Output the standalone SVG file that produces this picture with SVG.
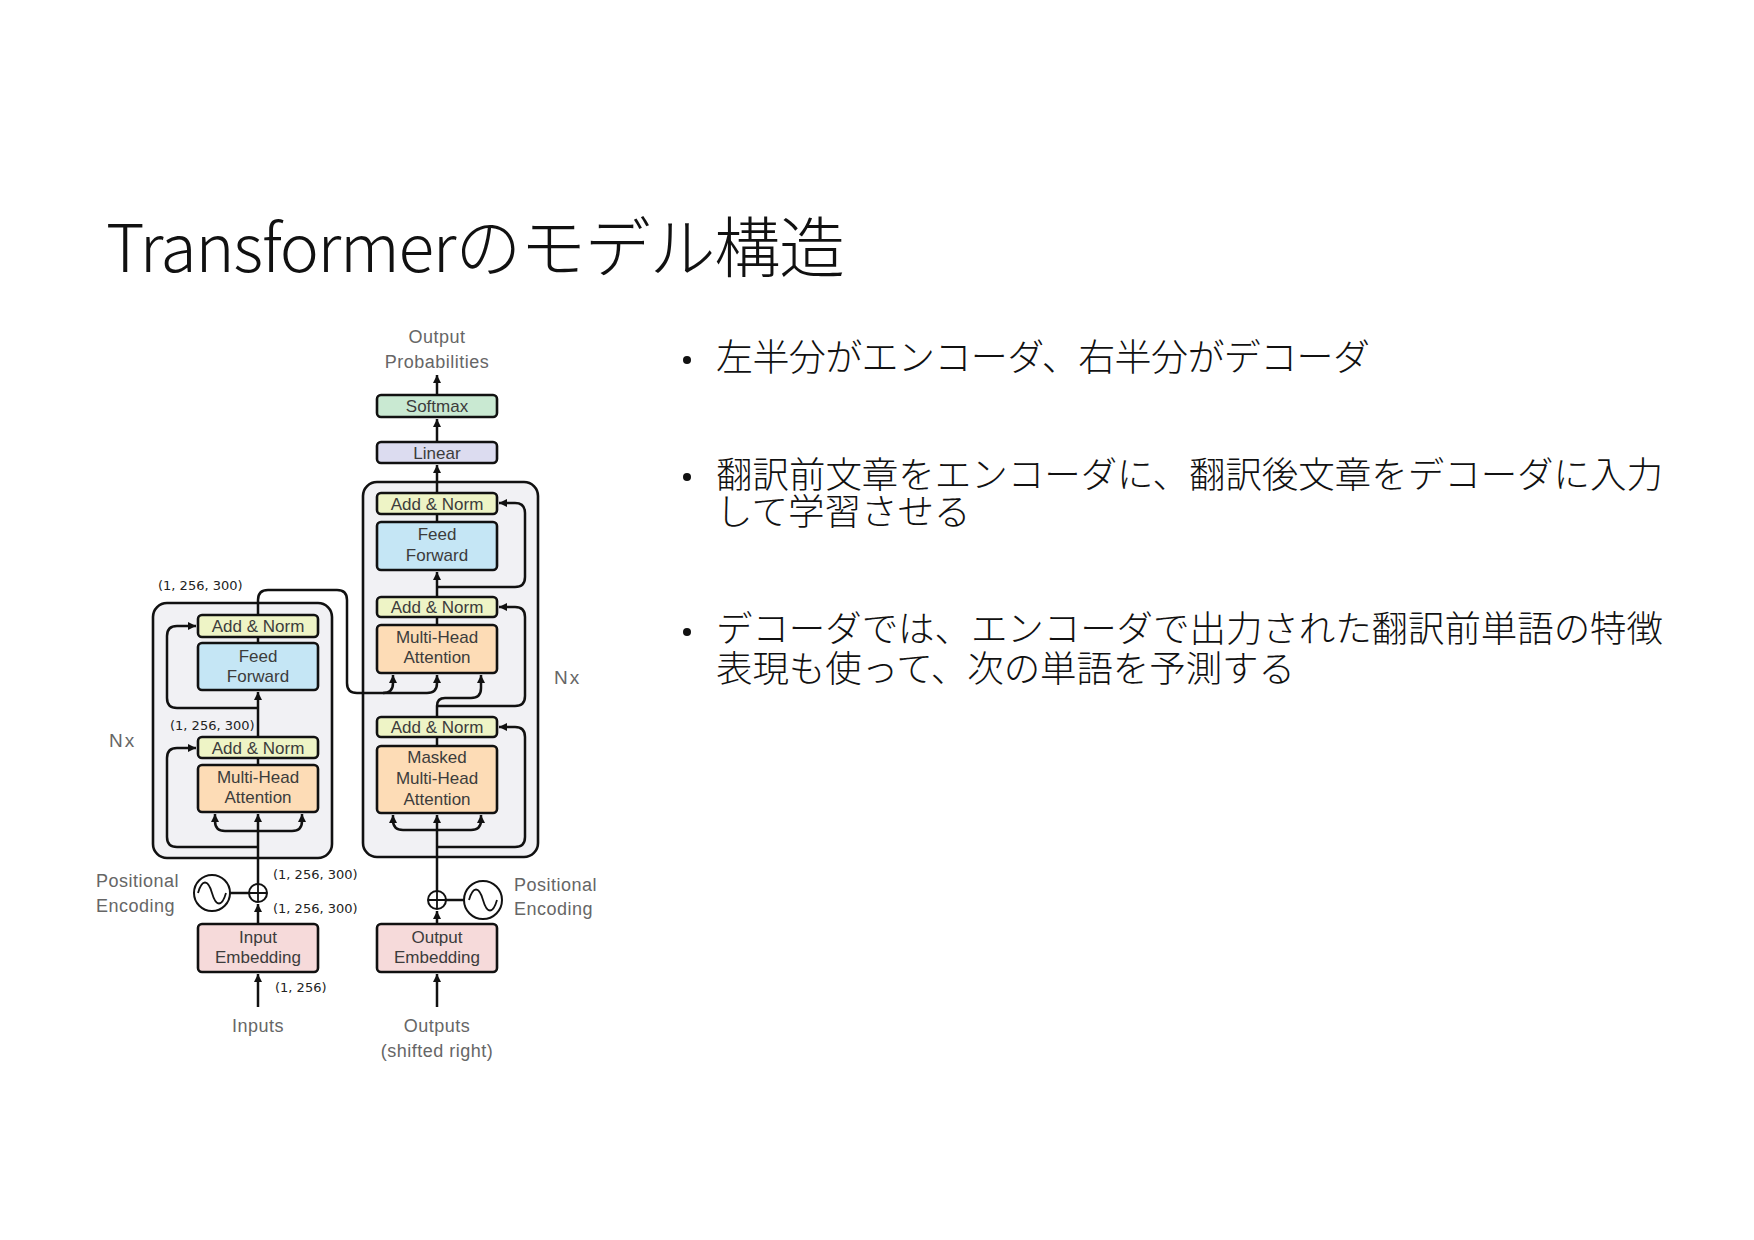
<svg xmlns="http://www.w3.org/2000/svg" width="1754" height="1240" viewBox="0 0 1754 1240">
<style>
.box{stroke:#111;stroke-width:2.6}
.outer{fill:#f1f1f4;stroke:#111;stroke-width:2.6}
.an{fill:#eef4c6}
.ff{fill:#c5e6f5}
.mha{fill:#fddcb6}
.lin{fill:#dcdcf0}
.sm{fill:#c9e9d2}
.emb{fill:#f6dada}
.bl{font-family:"Liberation Sans",Arial,sans-serif;font-size:17px;fill:#3c3c3c;text-anchor:middle}
.lbl{font-family:"Liberation Sans",Arial,sans-serif;font-size:18px;letter-spacing:0.5px;fill:#666}
.nx{font-family:"Liberation Sans",Arial,sans-serif;font-size:19px;letter-spacing:2px;fill:#666}
.dim{font-family:"DejaVu Sans",Verdana,sans-serif;font-size:13px;fill:#222}
.conn path{fill:none;stroke:#111;stroke-width:2.5}
.conn path.a{marker-end:url(#arr)}
.jp{font-family:"Noto Sans CJK JP","Noto Sans",sans-serif;font-weight:300;fill:#111}
</style>
<defs>
<marker id="arr" markerUnits="userSpaceOnUse" markerWidth="10" markerHeight="10" refX="8" refY="4" orient="auto">
<path d="M0,0 L8,4 L0,8 Z" fill="#111"/>
</marker>
</defs>
<rect width="1754" height="1240" fill="#fff"/>

<text id="title" class="jp" x="106" y="272" font-size="66" textLength="739" lengthAdjust="spacing">Transformerのモデル構造</text>

<g id="bullets">
<circle cx="687" cy="360" r="4" fill="#111"/>
<text class="jp" x="716" y="371" font-size="37" textLength="654" lengthAdjust="spacing">左半分がエンコーダ、右半分がデコーダ</text>
<circle cx="687" cy="477" r="4" fill="#111"/>
<text class="jp" x="716" y="488" font-size="36.5" textLength="947" lengthAdjust="spacing">翻訳前文章をエンコーダに、翻訳後文章をデコーダに入力</text>
<text class="jp" x="716" y="525" font-size="36.5">して学習させる</text>
<circle cx="687" cy="632" r="4" fill="#111"/>
<text class="jp" x="716" y="642" font-size="36.5" textLength="947" lengthAdjust="spacing">デコーダでは、エンコーダで出力された翻訳前単語の特徴</text>
<text class="jp" x="716" y="682" font-size="36.5" textLength="579" lengthAdjust="spacing">表現も使って、次の単語を予測する</text>
</g>

<g id="encoder-block"><rect class="outer" x="153" y="603" width="179" height="255" rx="14"/></g>
<g id="decoder-block"><rect class="outer" x="363" y="482" width="175" height="375" rx="14"/></g>

<g class="conn" id="connectors">
<path class="a" d="M258 1007 V974"/>
<path class="a" d="M258 924 V904"/>
<path class="a" d="M258 884 V814"/>
<path class="a" d="M258 831 H225 Q215 831 215 821 V814"/>
<path class="a" d="M258 831 H292 Q302 831 302 821 V814"/>
<path class="a" d="M258 847 H177 Q167 847 167 837 V758 Q167 748 177 748 H196"/>
<path d="M258 765 V758"/>
<path class="a" d="M258 737 V692"/>
<path class="a" d="M258 708 H177 Q167 708 167 698 V636 Q167 626 177 626 H196"/>
<path d="M258 643 V637"/>
<path class="a" d="M258 615 V600 Q258 590 268 590 H337 Q347 590 347 600 V683 Q347 693 357 693 H427 Q437 693 437 683 V675"/>
<path class="a" d="M383 693 Q393 693 393 683 V675"/>
<path d="M230 893 H249"/>
<path class="a" d="M437 1007 V974"/>
<path class="a" d="M437 924 V911"/>
<path class="a" d="M437 891 V815"/>
<path class="a" d="M437 830 H403 Q393 830 393 820 V815"/>
<path class="a" d="M437 830 H471 Q481 830 481 820 V815"/>
<path class="a" d="M437 847 H515 Q525 847 525 837 V737 Q525 727 515 727 H499"/>
<path d="M437 746 V737"/>
<path class="a" d="M437 717 V706 Q437 698 445 698 H471 Q481 698 481 688 V675"/>
<path class="a" d="M437 706 H515 Q525 706 525 696 V617 Q525 607 515 607 H499"/>
<path d="M437 625 V617"/>
<path class="a" d="M437 597 V572"/>
<path class="a" d="M437 587 H515 Q525 587 525 577 V513 Q525 503 515 503 H499"/>
<path d="M437 522 V514"/>
<path class="a" d="M437 493 V465"/>
<path class="a" d="M437 442 V419"/>
<path class="a" d="M437 395 V375"/>
<path d="M446 900 H464"/>
</g>

<g id="enc-addnorm2"><rect class="box an" x="198" y="615" width="120" height="22" rx="4"/><text class="bl" x="258" y="632">Add &amp; Norm</text></g>
<g id="enc-ff"><rect class="box ff" x="198" y="643" width="120" height="47" rx="4"/><text class="bl" x="258" y="662">Feed</text><text class="bl" x="258" y="682">Forward</text></g>
<g id="enc-addnorm1"><rect class="box an" x="198" y="737" width="120" height="21" rx="4"/><text class="bl" x="258" y="754">Add &amp; Norm</text></g>
<g id="enc-mha"><rect class="box mha" x="198" y="765" width="120" height="47" rx="4"/><text class="bl" x="258" y="783">Multi-Head</text><text class="bl" x="258" y="803">Attention</text></g>
<g id="input-emb"><rect class="box emb" x="198" y="924" width="120" height="48" rx="4"/><text class="bl" x="258" y="943">Input</text><text class="bl" x="258" y="963">Embedding</text></g>
<g id="enc-plus"><circle cx="258" cy="893" r="9" fill="#fff" stroke="#111" stroke-width="2"/><path d="M249 893 H267 M258 884 V902" stroke="#111" stroke-width="1.8"/></g>
<g id="enc-pe"><circle cx="212" cy="893" r="18" fill="#fff" stroke="#111" stroke-width="2"/><path d="M198 893 C202 879 208 879 212 893 S222 907 226 893" fill="none" stroke="#111" stroke-width="1.8"/></g>

<g id="dec-addnorm3"><rect class="box an" x="377" y="493" width="120" height="21" rx="4"/><text class="bl" x="437" y="510">Add &amp; Norm</text></g>
<g id="dec-ff"><rect class="box ff" x="377" y="522" width="120" height="48" rx="4"/><text class="bl" x="437" y="540">Feed</text><text class="bl" x="437" y="561">Forward</text></g>
<g id="dec-addnorm2"><rect class="box an" x="377" y="597" width="120" height="20" rx="4"/><text class="bl" x="437" y="613">Add &amp; Norm</text></g>
<g id="dec-mha"><rect class="box mha" x="377" y="625" width="120" height="48" rx="4"/><text class="bl" x="437" y="643">Multi-Head</text><text class="bl" x="437" y="663">Attention</text></g>
<g id="dec-addnorm1"><rect class="box an" x="377" y="717" width="120" height="20" rx="4"/><text class="bl" x="437" y="733">Add &amp; Norm</text></g>
<g id="dec-masked"><rect class="box mha" x="377" y="746" width="120" height="67" rx="4"/><text class="bl" x="437" y="763">Masked</text><text class="bl" x="437" y="784">Multi-Head</text><text class="bl" x="437" y="805">Attention</text></g>
<g id="output-emb"><rect class="box emb" x="377" y="924" width="120" height="48" rx="4"/><text class="bl" x="437" y="943">Output</text><text class="bl" x="437" y="963">Embedding</text></g>
<g id="dec-plus"><circle cx="437" cy="900" r="9" fill="#fff" stroke="#111" stroke-width="2"/><path d="M428 900 H446 M437 891 V909" stroke="#111" stroke-width="1.8"/></g>
<g id="dec-pe"><circle cx="483" cy="900" r="19" fill="#fff" stroke="#111" stroke-width="2"/><path d="M469 900 C473 886 479 886 483 900 S493 914 497 900" fill="none" stroke="#111" stroke-width="1.8"/></g>
<g id="linear"><rect class="box lin" x="377" y="442" width="120" height="21" rx="4"/><text class="bl" x="437" y="459">Linear</text></g>
<g id="softmax"><rect class="box sm" x="377" y="395" width="120" height="22" rx="4"/><text class="bl" x="437" y="412">Softmax</text></g>

<g id="labels">
<text class="lbl" x="437" y="343" text-anchor="middle">Output</text>
<text class="lbl" x="437" y="368" text-anchor="middle">Probabilities</text>
<text class="lbl" x="96" y="887">Positional</text>
<text class="lbl" x="96" y="912">Encoding</text>
<text class="lbl" x="514" y="891">Positional</text>
<text class="lbl" x="514" y="915">Encoding</text>
<text class="lbl" x="258" y="1032" text-anchor="middle">Inputs</text>
<text class="lbl" x="437" y="1032" text-anchor="middle">Outputs</text>
<text class="lbl" x="437" y="1057" text-anchor="middle">(shifted right)</text>
<text class="nx" x="109" y="747">Nx</text>
<text class="nx" x="554" y="684">Nx</text>
</g>

<g id="dims">
<text class="dim" x="158" y="590">(1, 256, 300)</text>
<text class="dim" x="170" y="730">(1, 256, 300)</text>
<text class="dim" x="273" y="879">(1, 256, 300)</text>
<text class="dim" x="273" y="913">(1, 256, 300)</text>
<text class="dim" x="275" y="992">(1, 256)</text>
</g>
</svg>
